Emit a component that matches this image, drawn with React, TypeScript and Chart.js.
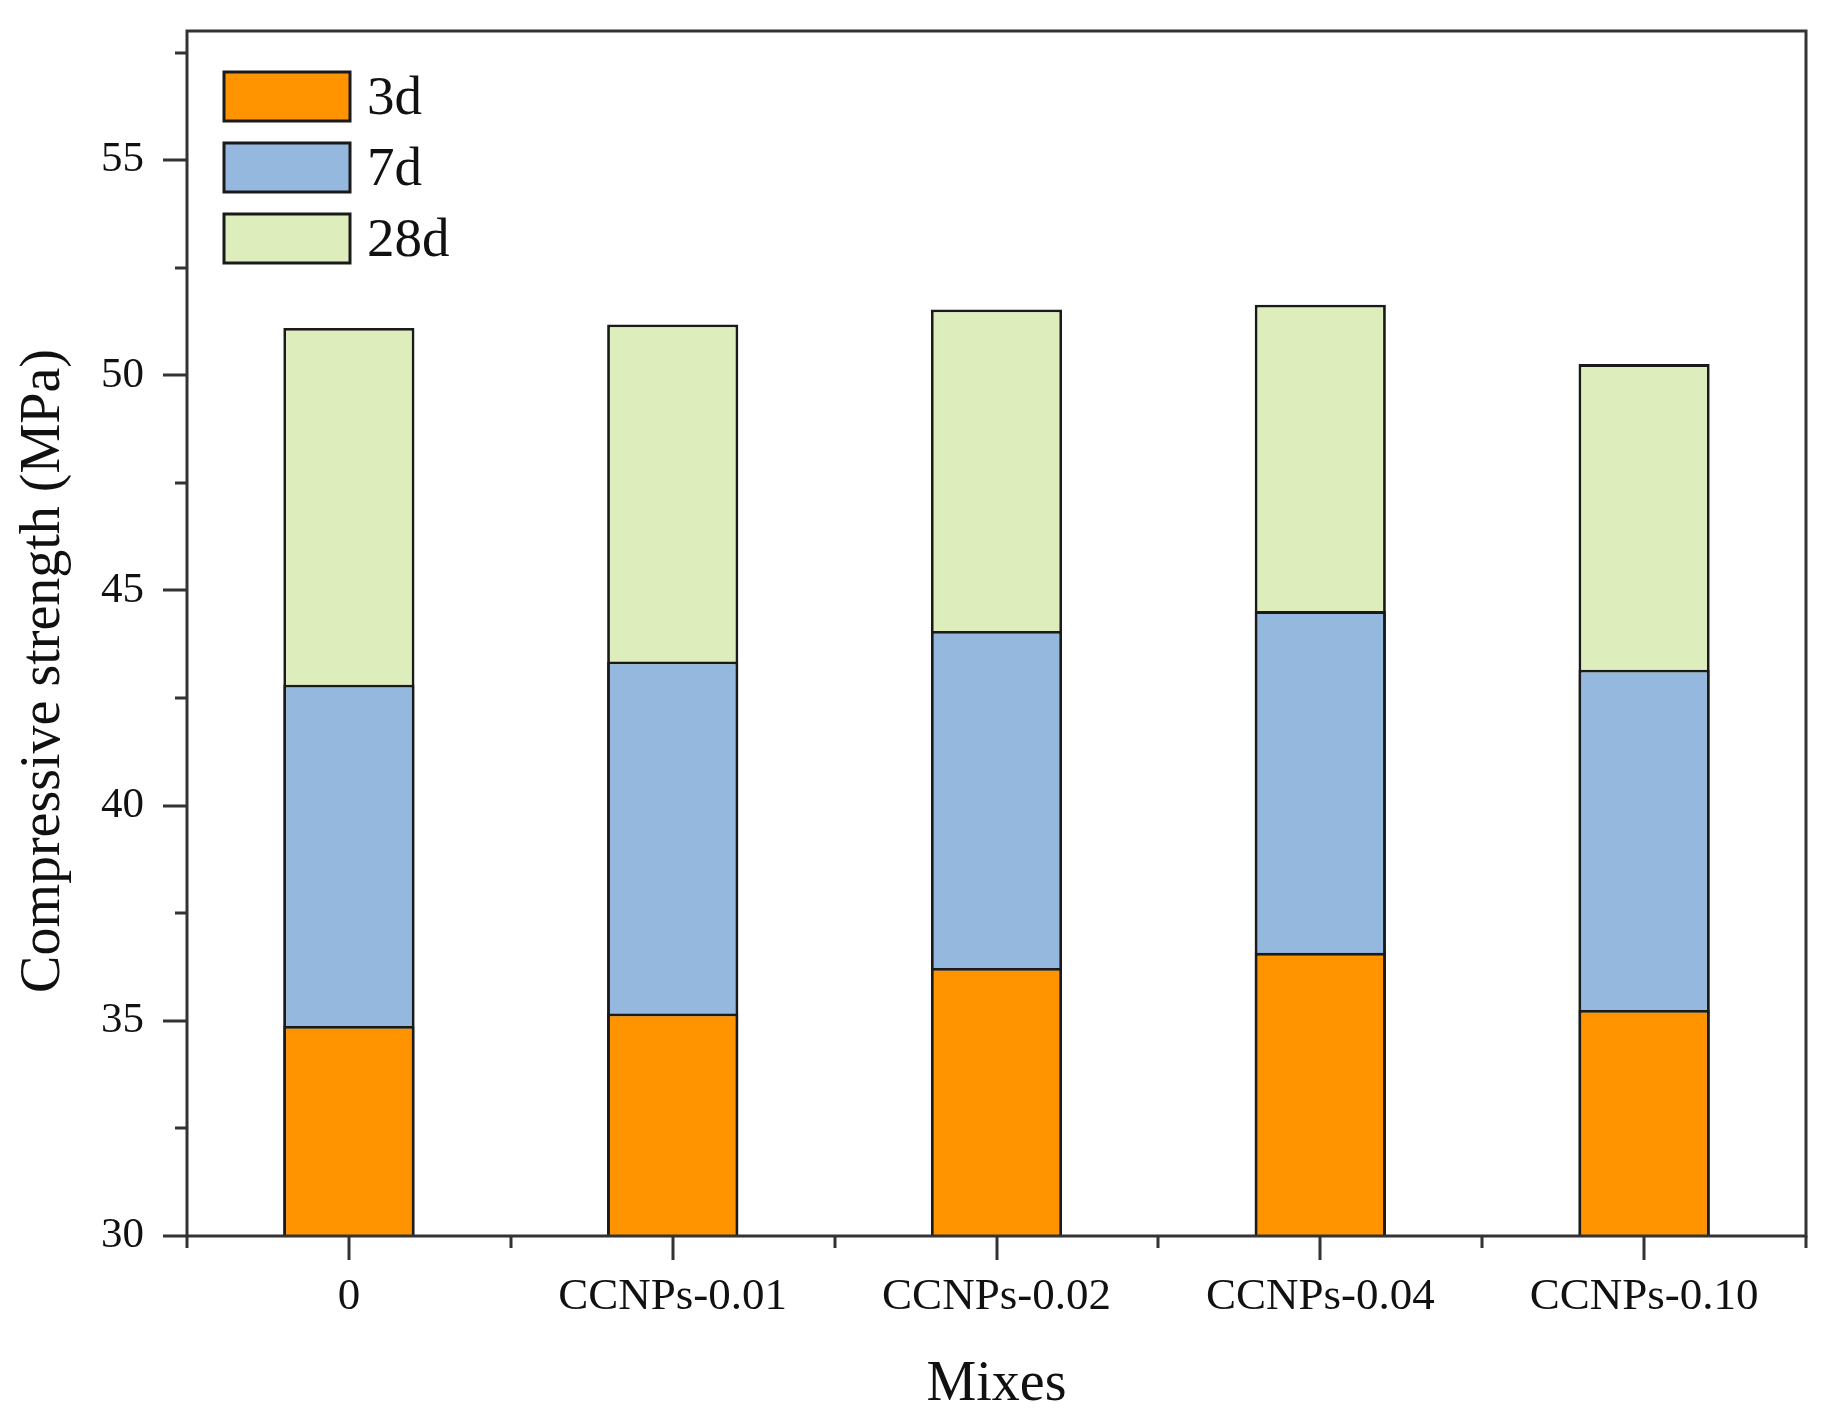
import React, { useEffect, useRef } from "react";
import { Chart, registerables } from "chart.js";

Chart.register(...registerables);

const categories = ["0", "CCNPs-0.01", "CCNPs-0.02", "CCNPs-0.04", "CCNPs-0.10"];
const seriesLabels = ["3d", "7d", "28d"];
const values3d = [34.88, 35.17, 36.23, 36.58, 35.25];
const values7d = [42.81, 43.35, 44.06, 44.52, 43.16];
const values28d = [51.1, 51.18, 51.53, 51.64, 50.26];
const yMajorTicks = [30, 35, 40, 45, 50, 55];
const yMinorTicks = [32.5, 37.5, 42.5, 47.5, 52.5, 57.5];
const yTitle = "Compressive strength (MPa)";
const xTitle = "Mixes";

const FONT = "'Liberation Serif', 'Times New Roman', serif";
const AXIS_COLOR = "#333333";

const framePlugin = {
  id: "frameTicks",
  afterDraw(chart: any) {
    const { ctx, chartArea } = chart;
    const x = chart.scales.x;
    const y = chart.scales.y;
    ctx.save();
    ctx.strokeStyle = AXIS_COLOR;
    ctx.lineWidth = 3;
    ctx.strokeRect(chartArea.left, chartArea.top, chartArea.right - chartArea.left, chartArea.bottom - chartArea.top);
    ctx.beginPath();
    yMajorTicks.forEach((v) => {
      const py = Math.round(y.getPixelForValue(v));
      ctx.moveTo(chartArea.left, py);
      ctx.lineTo(chartArea.left - 24, py);
    });
    yMinorTicks.forEach((v) => {
      const py = Math.round(y.getPixelForValue(v));
      ctx.moveTo(chartArea.left, py);
      ctx.lineTo(chartArea.left - 12, py);
    });
    const n = categories.length;
    for (let i = 0; i < n; i++) {
      const px = Math.round(x.getPixelForValue(i));
      ctx.moveTo(px, chartArea.bottom);
      ctx.lineTo(px, chartArea.bottom + 24);
    }
    for (let i = 0; i <= n; i++) {
      let px: number;
      if (i === 0) px = chartArea.left;
      else if (i === n) px = chartArea.right;
      else px = Math.round((x.getPixelForValue(i - 1) + x.getPixelForValue(i)) / 2);
      ctx.moveTo(px, chartArea.bottom);
      ctx.lineTo(px, chartArea.bottom + 12);
    }
    ctx.stroke();

    // y axis title
    ctx.save();
    ctx.translate(44, 671);
    ctx.rotate(-Math.PI / 2);
    ctx.font = `56px ${FONT}`;
    ctx.fillStyle = "#111111";
    ctx.textAlign = "center";
    ctx.textBaseline = "middle";
    ctx.fillText(yTitle, 0, 0);
    ctx.restore();

    // legend inside plot area
    const boxLeft = chartArea.left + 37;
    const boxW = 126;
    const boxH = 49;
    const pitch = 71;
    const firstTop = chartArea.top + 41;
    ctx.font = `55px ${FONT}`;
    ctx.textBaseline = "middle";
    ctx.textAlign = "left";
    chart.data.datasets.forEach((ds: any, i: number) => {
      const top = firstTop + i * pitch;
      ctx.fillStyle = ds.backgroundColor;
      ctx.fillRect(boxLeft, top, boxW, boxH);
      ctx.lineWidth = 3;
      ctx.strokeStyle = "#1a1a1a";
      ctx.strokeRect(boxLeft, top, boxW, boxH);
      ctx.fillStyle = "#111111";
      ctx.fillText(ds.label, boxLeft + boxW + 17, top + boxH / 2 + 3);
    });
    ctx.restore();
  },
};

export default function App() {
  const ref = useRef<HTMLCanvasElement | null>(null);
  useEffect(() => {
    if (!ref.current) return;
    const common = {
      borderColor: "#1a1a1a",
      borderWidth: 2.8,
      borderSkipped: false,
      barPercentage: 0.405,
      categoryPercentage: 1.0,
    };
    const chart = new Chart(ref.current, {
      type: "bar",
      data: {
        labels: categories,
        datasets: [
          { ...common, label: seriesLabels[0], data: values3d, backgroundColor: "#FF9400", order: 1 },
          { ...common, label: seriesLabels[1], data: values7d, backgroundColor: "#95B8DF", order: 2 },
          { ...common, label: seriesLabels[2], data: values28d, backgroundColor: "#DDEDBC", order: 3 },
        ],
      } as any,
      options: {
        animation: false,
        responsive: false,
        devicePixelRatio: 1,
        layout: { padding: { left: 0, right: 22, top: 31, bottom: 0 } },
        plugins: {
          legend: { display: false },
          tooltip: { enabled: false },
        },
        scales: {
          x: {
            stacked: true,
            offset: true,
            grid: { display: false, drawTicks: false },
            border: { display: false },
            ticks: {
              color: "#111111",
              font: { family: FONT, size: 45 },
              padding: 34,
              maxRotation: 0,
              autoSkip: false,
            },
            title: {
              display: true,
              text: xTitle,
              color: "#111111",
              font: { family: FONT, size: 56, lineHeight: 1.1 },
              padding: { top: 0, bottom: 0 },
            },
            afterFit: (s: any) => {
              s.height = 180;
              s.paddingLeft = 0;
              s.paddingRight = 0;
            },
          },
          y: {
            stacked: false,
            min: 30,
            max: 58,
            grid: { display: false, drawTicks: false },
            border: { display: false },
            ticks: {
              stepSize: 5,
              color: "#111111",
              font: { family: FONT, size: 43 },
              padding: 43,
            },
            afterBuildTicks: (s: any) => {
              s.ticks = s.ticks.filter((t: any) => t.value % 5 === 0);
            },
            title: { display: false },
            afterFit: (s: any) => {
              s.width = 187;
              s.paddingTop = 0;
              s.paddingBottom = 0;
            },
          },
        },
      } as any,
      plugins: [framePlugin],
    });
    return () => chart.destroy();
  }, []);
  return (
    <div style={{ position: "fixed", left: 0, top: 0, width: 1828, height: 1416, background: "#ffffff" }}>
      <canvas ref={ref} width={1828} height={1416} style={{ width: 1828, height: 1416, display: "block" }} />
    </div>
  );
}
